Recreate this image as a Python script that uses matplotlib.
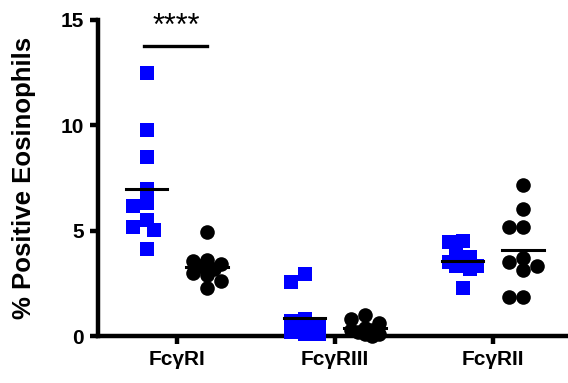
import numpy as np
import matplotlib.pyplot as plt

# --- datos ---
grupos = ['FcγRI', 'FcγRIII', 'FcγRII']
azul = [
    [12.47, 9.78, 8.48, 6.96, 6.17, 6.33, 5.5, 5.03, 5.16, 4.11],
    [2.94, 2.55, 0.8, 0.7, 0.5, 0.3, 0.2, 0.1, 0.2, 0.1],
    [4.48, 4.52, 4.0, 3.77, 3.5, 3.4, 3.3, 3.2, 3.3, 2.26],
]
negro = [
    [4.95, 3.6, 3.55, 3.4, 3.3, 3.2, 3.0, 2.9, 2.6, 2.3],
    [1.0, 0.8, 0.6, 0.4, 0.3, 0.2, 0.1, 0.1, 0.0, 0.3],
    [7.17, 6.01, 5.19, 5.19, 3.7, 3.5, 3.3, 3.15, 1.87, 1.87],
]
signif = '****'

plt.rcParams['font.family'] = ['Liberation Sans', 'DejaVu Sans']

fig = plt.figure(figsize=(5.68, 3.83), dpi=100)
ax = fig.add_axes([0.1725, 0.1227, 0.8275, 0.8253])
ax.set_xlim(-0.5, 2.475)
ax.set_ylim(0, 15)

# escala aproximada en píxeles para repartir los puntos
px_x = 0.8275 * 568 / 2.975
px_y = 0.8253 * 383 / 15


def repartir(vals, dmin=12, paso=7, kmax=2):
    # enjambre simple: cada punto va al hueco libre más cercano al centro
    vals = np.asarray(vals)
    orden = np.argsort(vals)[::-1]
    puestos = []
    xs = np.zeros(len(vals))
    ks = [0]
    for k in range(1, kmax + 1):
        ks += [-k, k]
    for i in orden:
        y = vals[i] * px_y
        mejor, mejor_d = 0, -1
        for k in ks:
            x = k * paso
            d = min([np.hypot(x - a, y - b) for a, b in puestos] or [99])
            if d >= dmin:
                mejor = x
                break
            if d > mejor_d:
                mejor, mejor_d = x, d
        puestos.append((mejor, y))
        xs[i] = mejor / px_x
    return xs


desp = 0.19
for i in range(len(grupos)):
    xa = i - desp + repartir(azul[i])
    ax.plot(xa, azul[i], 's', color='#0000ff', markersize=10,
            markeredgewidth=0, clip_on=False, zorder=3)
    xn = i + desp + repartir(negro[i])
    ax.plot(xn, negro[i], 'o', color='black', markersize=10.5,
            markeredgewidth=0, clip_on=False, zorder=3)
    # medias
    ax.plot([i - desp - 0.13, i - desp + 0.13], [np.mean(azul[i])] * 2,
            color='black', lw=2.2, zorder=4, clip_on=False)
    ax.plot([i + desp - 0.13, i + desp + 0.13], [np.mean(negro[i])] * 2,
            color='black', lw=2.2, zorder=4, clip_on=False)

# barra de significancia
ax.plot([-0.21, 0.19], [13.75, 13.75], color='black', lw=2.4, clip_on=False)
ax.text(-0.005, 13.95, signif, ha='center', va='bottom', fontsize=22)

ax.set_xticks(range(len(grupos)))
ax.set_xticklabels(grupos, fontsize=15, fontweight='bold')
ax.set_yticks([0, 5, 10, 15])
ax.set_yticklabels(['0', '5', '10', '15'], fontsize=15, fontweight='bold')
ax.set_ylabel('% Positive Eosinophils', fontsize=18.5, fontweight='bold', labelpad=18)

for s in ['top', 'right']:
    ax.spines[s].set_visible(False)
for s in ['left', 'bottom']:
    ax.spines[s].set_linewidth(3.2)
ax.tick_params(width=3.2, length=6, direction='out', pad=4)

plt.savefig('out.png', dpi=100)
